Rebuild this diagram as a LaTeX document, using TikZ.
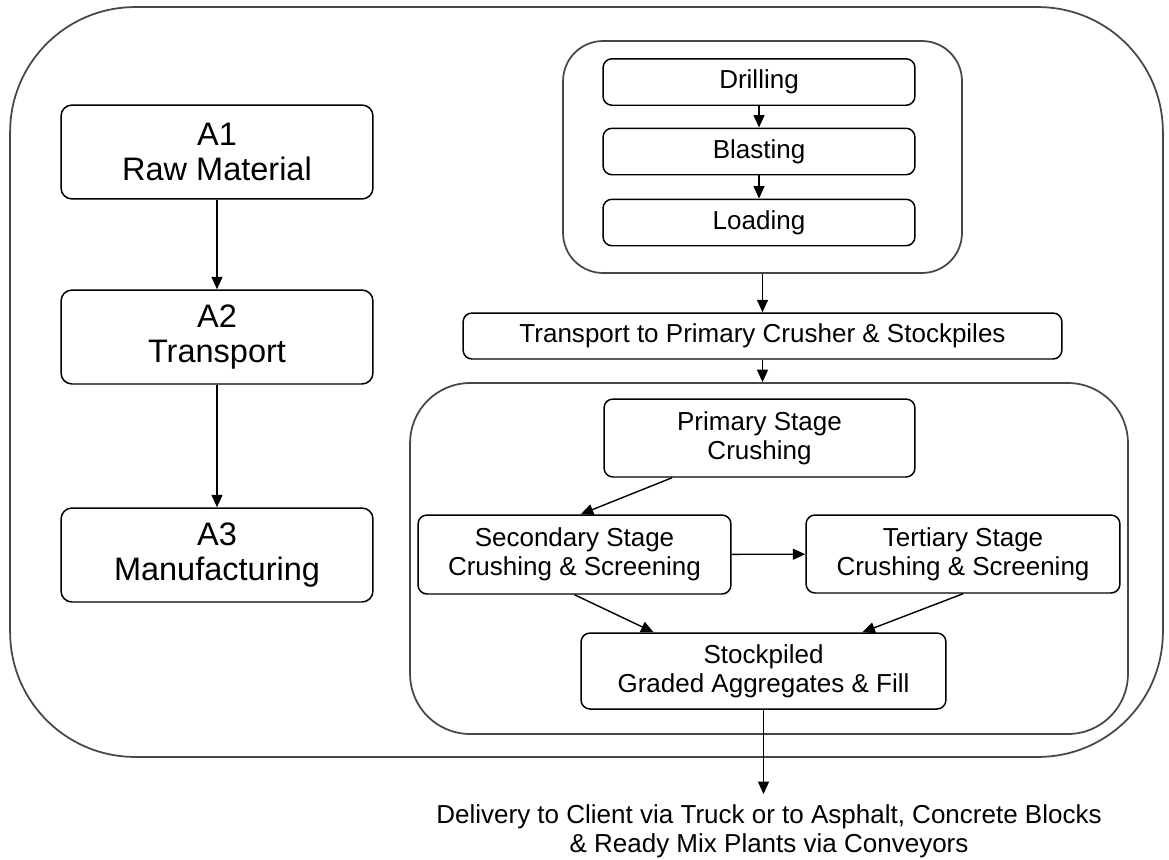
\documentclass[tikz,border=0pt]{standalone}
\usepackage{fontspec}
\setmainfont{Liberation Sans}
\usetikzlibrary{arrows.meta,calc}

\begin{document}
\begin{tikzpicture}[x=0.02cm, y=-0.02cm, >={Triangle[length=0.25cm,width=0.22cm]},
    box/.style={draw, line width=0.85pt, rounded corners=0.18cm, align=center, inner sep=0pt,
        font=\fontsize{14.8}{16.5}\selectfont},
    stagebox/.style={box, rounded corners=0.22cm, minimum width=6.24cm, minimum height=1.88cm,
        font=\fontsize{18.5}{19.9}\selectfont},
    stepbox/.style={box, minimum width=6.24cm, minimum height=0.93cm},
    group/.style={draw=black!72, line width=1pt, inner sep=0pt},
    flow/.style={->, line width=0.8pt}]
    \useasboundingbox (0,0) rectangle (1169,859);

    \node[group, rounded corners=2.5cm, minimum width=23.06cm, minimum height=15cm] (outer) at (586.5,382) {};

    \node[stagebox] (a1) at (217,152) {A1\\Raw Material};
    \node[stagebox] (a2) at (217,337) {A2\\Transport};
    \node[stagebox] (a3) at (217,555) {A3\\Manufacturing};

    \node[group, rounded corners=0.8cm, minimum width=7.98cm, minimum height=4.64cm] (quarry) at (762.5,157) {};
    \node[stepbox] (drill) at (759,82) {Drilling};
    \node[stepbox] (blast) at (759,151.5) {Blasting};
    \node[stepbox] (load) at (759,222.5) {Loading};

    \node[box, minimum width=11.98cm, minimum height=0.92cm] (transport) at (762.5,336)
        {Transport to Primary Crusher \& Stockpiles};

    \node[group, rounded corners=1.2cm, minimum width=14.36cm, minimum height=7.02cm] (plant) at (769,558.5) {};
    \node[box, minimum width=6.22cm, minimum height=1.56cm] (primary) at (759.5,438) {Primary Stage\\Crushing};
    \node[box, minimum width=6.26cm, minimum height=1.58cm] (secondary) at (574.5,554.5)
        {Secondary Stage\\Crushing \& Screening};
    \node[box, minimum width=6.28cm, minimum height=1.56cm] (tertiary) at (963,554)
        {Tertiary Stage\\Crushing \& Screening};
    \node[box, minimum width=7.3cm, minimum height=1.52cm] (stock) at (763.5,671)
        {Stockpiled\\Graded Aggregates \& Fill};

    \node[align=center, inner xsep=0pt, inner ysep=0.2cm, font=\fontsize{14.8}{16.5}\selectfont] (delivery) at (769,831)
        {Delivery to Client via Truck or to Asphalt, Concrete Blocks\\\& Ready Mix Plants via Conveyors};

    \draw[flow] (a1) -- (a2);
    \draw[flow] (a2) -- (a3);
    \draw[flow] (drill) -- (blast);
    \draw[flow] (blast) -- (load);
    \draw[flow] (quarry.south) -- (quarry.south |- transport.north);
    \draw[flow] (transport.south) -- (transport.south |- plant.north);
    \draw[flow] ($(primary.south west)!0.22!(primary.south east)$) -- ($(secondary.north west)!0.52!(secondary.north east)$);
    \draw[flow] (secondary) -- (tertiary);
    \draw[flow] (secondary.south) -- ($(stock.north west)!0.2!(stock.north east)$);
    \draw[flow] (tertiary.south) -- ($(stock.north west)!0.77!(stock.north east)$);
    \draw[flow] (stock.south) -- (stock.south |- delivery.north);
\end{tikzpicture}
\end{document}
